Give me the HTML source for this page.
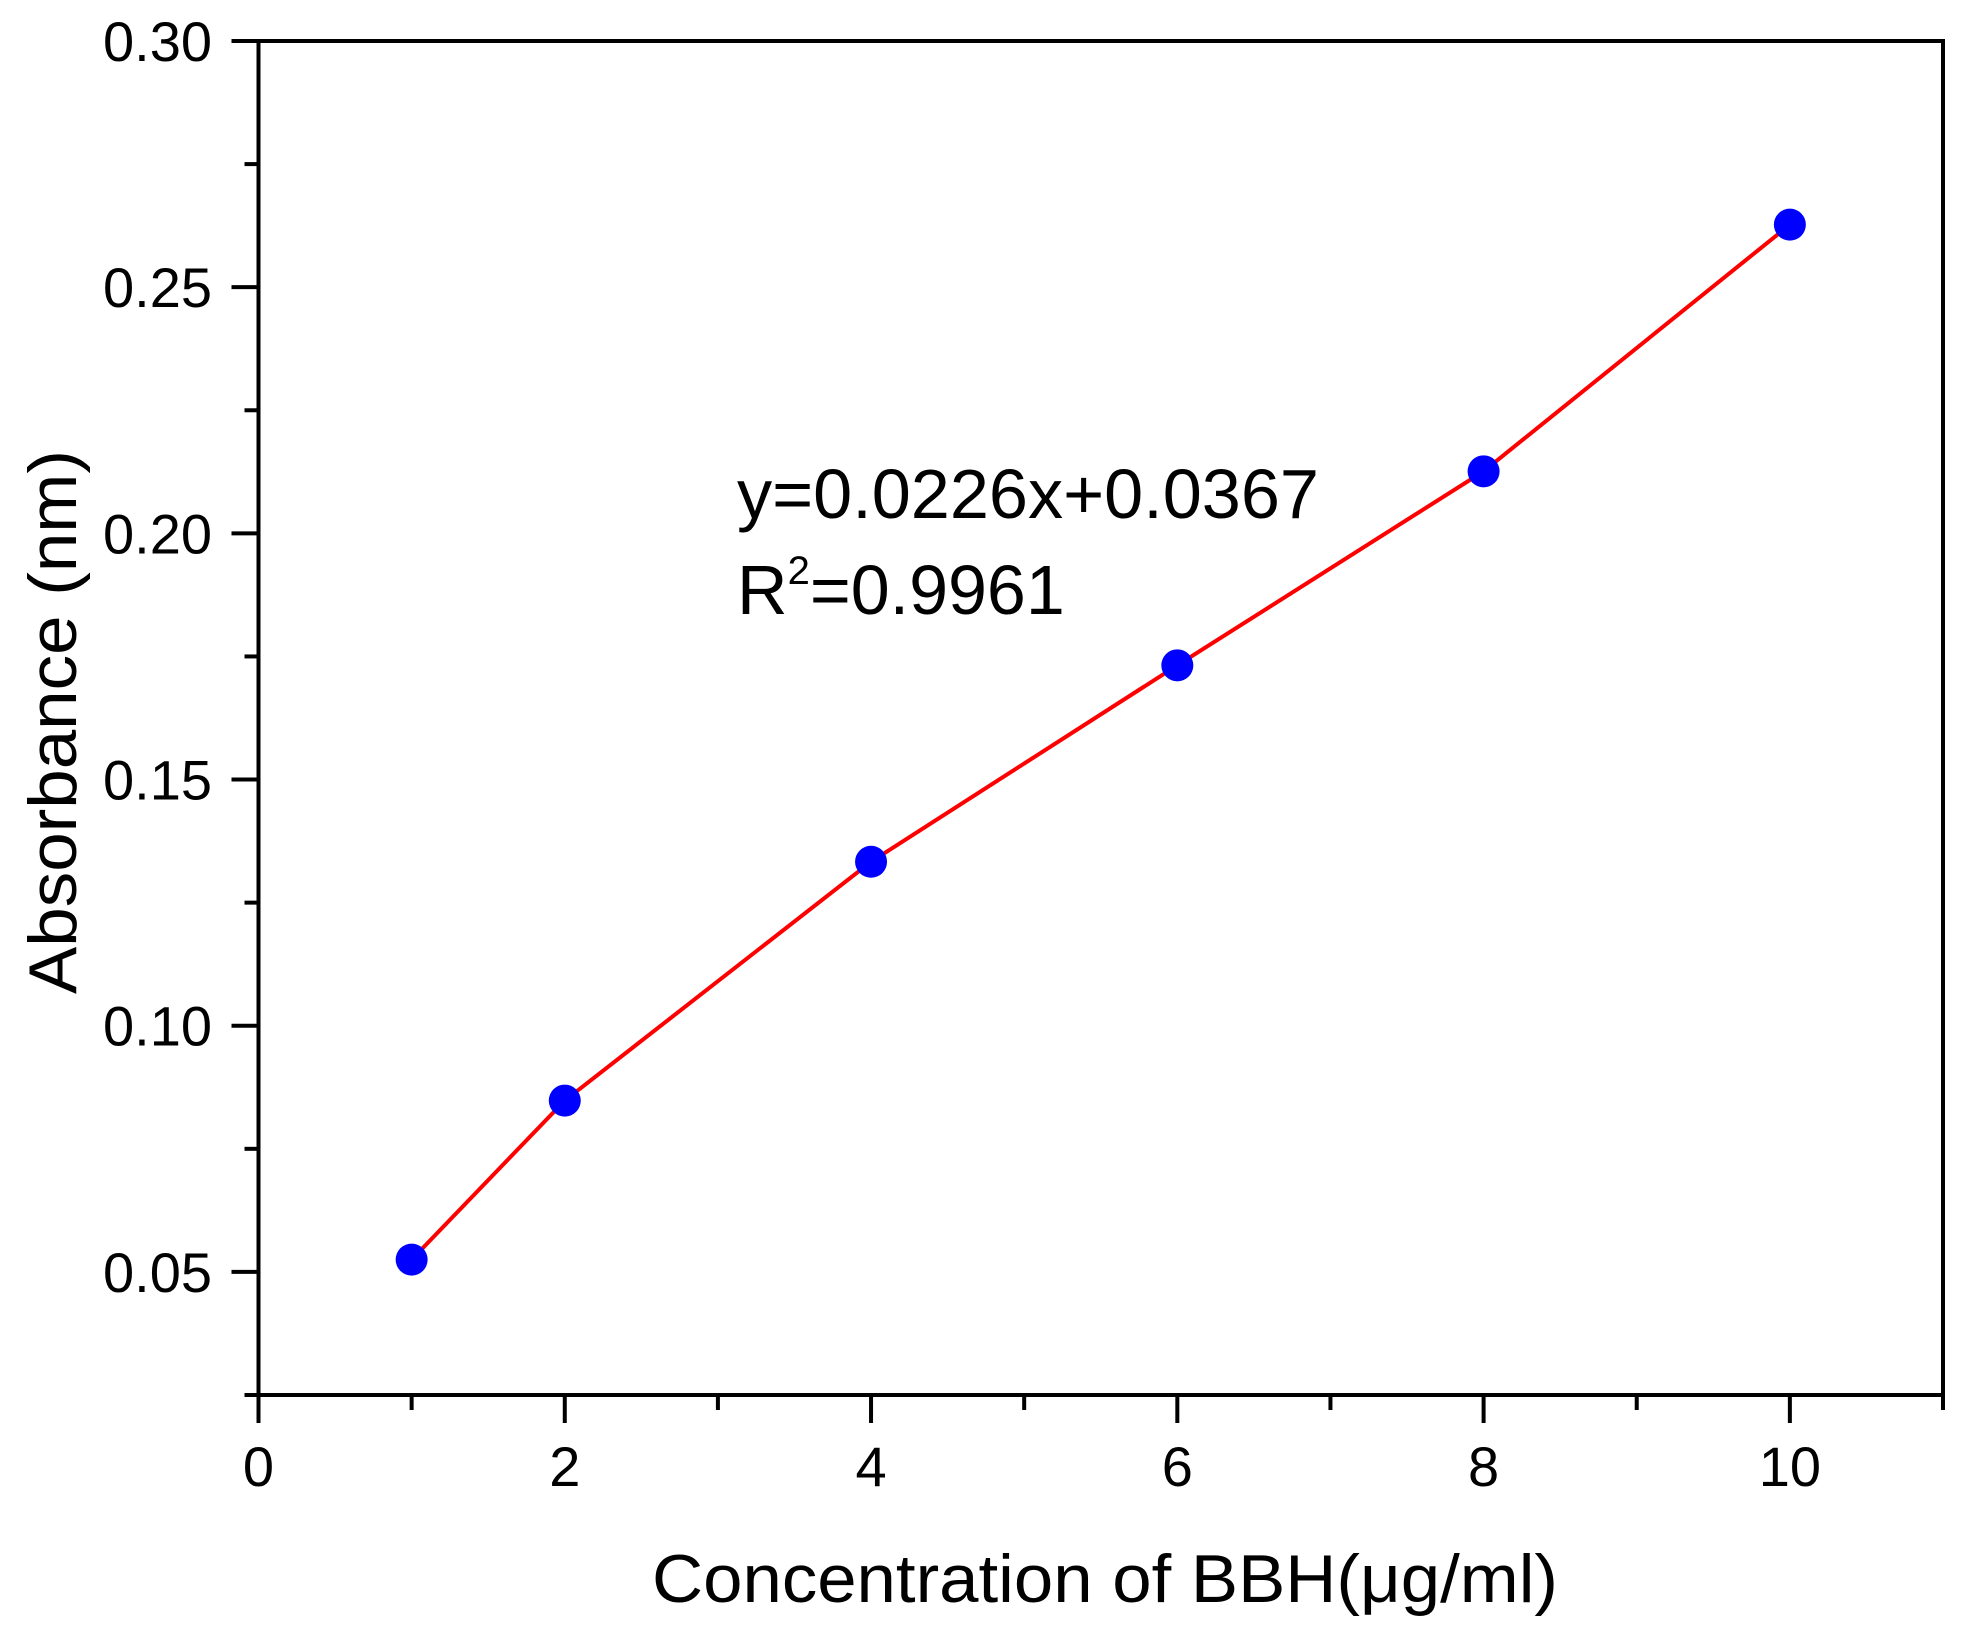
<!DOCTYPE html>
<html><head><meta charset="utf-8"><style>
html,body{margin:0;padding:0;background:#fff;}
svg{display:block;font-family:"Liberation Sans",Arial,sans-serif;}
</style></head><body>
<svg id="chart" width="1964" height="1634" viewBox="0 0 1964 1634" xmlns="http://www.w3.org/2000/svg">
<g id="axes"></g>
<g id="series"></g>
<text x="737" y="518" font-size="70" textLength="582" lengthAdjust="spacingAndGlyphs">y=0.0226x+0.0367</text>
<text x="737" y="614" font-size="70">R<tspan dy="-30" font-size="40">2</tspan><tspan dy="30">=0.9961</tspan></text>
<text x="1105" y="1602" font-size="68" text-anchor="middle" textLength="906" lengthAdjust="spacingAndGlyphs">Concentration of BBH(μg/ml)</text>
<text transform="translate(76,722) rotate(-90)" font-size="68" text-anchor="middle" textLength="544" lengthAdjust="spacingAndGlyphs">Absorbance (nm)</text>
</svg>
<script>
const xValues = [1, 2, 4, 6, 8, 10];
const yValues = [0.0525, 0.0848, 0.1333, 0.1732, 0.2126, 0.2627];
const xTickLabels = ["0", "2", "4", "6", "8", "10"];
const yTickLabels = ["0.05", "0.10", "0.15", "0.20", "0.25", "0.30"];

const NS = "http://www.w3.org/2000/svg";
const L = 258.5, R = 1943, T = 41, B = 1395;
const xMin = 0, xMax = 11, yMin = 0.025, yMax = 0.30;
const sx = v => L + (v - xMin) / (xMax - xMin) * (R - L);
const sy = v => B - (v - yMin) / (yMax - yMin) * (B - T);
function mk(tag, attrs, parent) {
  const e = document.createElementNS(NS, tag);
  for (const k in attrs) e.setAttribute(k, attrs[k]);
  parent.appendChild(e); return e;
}
const axes = document.getElementById('axes');
const series = document.getElementById('series');
const frame = mk('rect', {x: L, y: T, width: R - L, height: B - T, fill: 'none', stroke: '#000', 'stroke-width': 4}, axes);


for (let v = 0; v <= 11; v++) {
  const major = v % 2 === 0;
  const t = mk('line', {x1: sx(v), x2: sx(v), y1: B, y2: B + (major ? 28 : 15), stroke: '#000', 'stroke-width': 4}, axes);
  
  
}
xTickLabels.forEach(s => {
  const t = mk('text', {x: sx(parseFloat(s)), y: 1486, 'font-size': 56, 'text-anchor': 'middle'}, axes);
  t.textContent = s;
  
  
});
for (let i = 0; i <= 11; i++) {
  const v = 0.025 + i * 0.025;
  const major = i % 2 === 1;
  const t = mk('line', {x1: L - (major ? 27 : 14), x2: L, y1: sy(v), y2: sy(v), stroke: '#000', 'stroke-width': 4}, axes);
  
  
}
yTickLabels.forEach(s => {
  const t = mk('text', {x: 212, y: sy(parseFloat(s)) + 20, 'font-size': 56, 'text-anchor': 'end'}, axes);
  t.textContent = s;
  
  
});
const pts = xValues.map((x, i) => sx(x) + ',' + sy(yValues[i])).join(' ');
const line = mk('polyline', {points: pts, fill: 'none', stroke: '#ff0000', 'stroke-width': 4}, series);


xValues.forEach((x, i) => {
  const c = mk('circle', {cx: sx(x), cy: sy(yValues[i]), r: 16, fill: '#0000ff'}, series);
  
  
});
</script>
</body></html>
